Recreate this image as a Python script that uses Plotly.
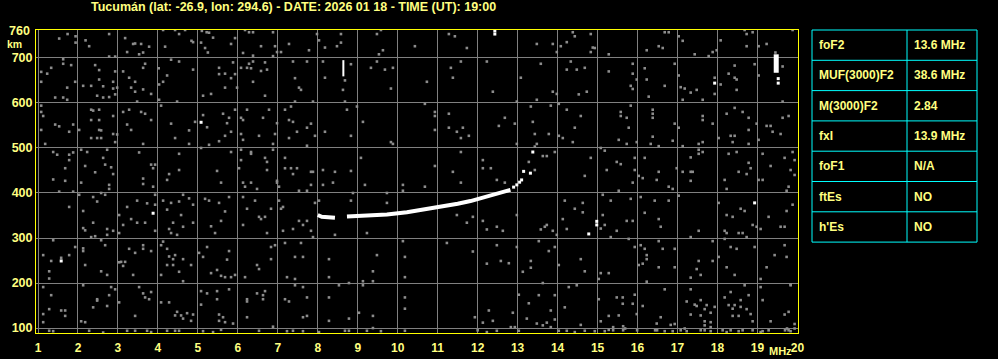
import plotly.graph_objects as go

# ---------------- data ----------------
title_text = "Tucumán (lat: -26.9, lon: 294.6) - DATE: 2026 01 18 - TIME (UT): 19:00"
x_ticks = list(range(1, 21))
y_ticks = [100, 200, 300, 400, 500, 600, 700]

param_names = ["foF2", "MUF(3000)F2", "M(3000)F2", "fxI", "foF1", "ftEs", "h'Es"]
param_values = ["13.6 MHz", "38.6 MHz", "2.84", "13.9 MHz", "N/A", "NO", "NO"]

# main F2 trace (MHz, km)
trace_freq = [8.00, 8.10, 8.43, None, 8.73, 9.23, 9.73, 10.23, 10.60, 11.00, 11.50, 11.82, 12.10, 12.38, 12.60, 12.82]
trace_height = [351, 347, 345, None, 348, 349, 352, 357, 362, 368, 376, 382, 389, 396, 401, 407]

# isolated strong echoes
echo_freq = [12.90, 12.98, 13.05, 13.10, 13.15, 13.32, 13.38, 12.43, 12.43, 14.98, 14.98, 14.78, 5.08, 3.88, 1.58, 17.93, 18.93, 19.52, 19.52]
echo_height = [413, 418, 424, 429, 448, 444, 491, 760, 753, 337, 329, 309, 557, 355, 249, 644, 378, 654, 644]

streak1_freq = [8.64, 8.64]
streak1_height = [659, 695]
streak2_freq = [19.47, 19.47]
streak2_height = [667, 708]

# background noise (MHz, km)
noise_a = [(1.74,753),(1.94,748),(1.94,734),(1.53,743),(2.19,739),(2.28,726),(2.78,753),(3.18,744),(3.38,731),(3.43,732),
(3.58,731),(3.78,725),(3.23,713),(3.53,708),(3.63,712),(4.18,725),(4.13,762),(4.43,762),(4.53,753),(4.68,762),(4.84,738),
(4.88,735),(5.08,734),(5.10,760),(5.22,757),(5.28,756),(5.38,745),(5.18,722),(5.25,712),(2.78,703),(2.93,703),
(1.63,697),(1.63,687),(1.83,684),(1.33,678),(1.08,669),(1.08,647),(1.23,665),(1.93,647),(1.73,634),(1.43,612),(1.63,612),
(1.73,607),(2.13,638),(2.43,684),(2.53,673),(2.33,638),(2.53,652),(2.63,637),(2.48,616),(2.63,612),(2.78,613),(2.93,619),
(2.88,647),(2.88,632),(2.98,634),(2.93,670),(3.13,670),(3.28,656),(3.43,647),(3.33,634),(3.43,625),(3.63,630),(3.63,678),
(3.68,687),(3.83,620),(3.48,603),(4.03,641),(4.02,677),(4.13,647),(4.23,661),(4.33,696),(4.53,692),(4.88,674),(5.13,616),
(5.33,620),(5.53,678),(5.53,664),(5.68,665),(5.68,634),(4.48,603),(4.03,607),
(1.08,594),(1.08,580),(1.13,571),(1.08,540),(1.43,552),(1.53,548),(1.88,552),(1.78,536),(1.18,509),(2.33,585),(2.38,583),
(2.53,585),(2.33,562),(2.53,562),(2.88,571),(2.03,540),(2.53,540),(2.58,539),(2.33,522),(2.48,522),(2.58,522),(2.88,531),
(2.98,530),(2.93,513),(3.13,580),(3.28,585),(3.23,552),(3.33,540),(3.58,580),(3.68,576),(3.83,562),(3.63,509),(4.08,594),
(4.33,554),(4.43,522),(4.78,539),(4.78,509),(5.13,573),(5.23,546),(5.63,576),(5.73,555),(5.53,515),(5.68,527),(5.28,507),(4.93,558),
(1.38,491),(1.48,485),(1.78,485),(1.88,490),(1.78,473),(1.68,455),(1.38,430),(1.68,427),(1.53,403),(1.88,403),(2.08,496),
(2.23,491),(2.18,460),(2.43,446),(2.63,478),(2.68,463),(2.83,457),(2.73,496),(2.78,418),(2.78,409),(2.88,442),(2.08,423),
(3.53,490),(3.83,463),(3.93,463),(3.88,455),(3.63,432),(3.63,420),(3.88,414),(4.28,442),(4.23,429),(4.53,487),(4.53,451),
(5.48,449),(5.58,423),(5.08,500),
(1.78,369),(2.03,396),(2.13,360),(2.38,391),(2.48,381),(2.58,400),(2.68,396),(2.13,322),(2.18,317),(2.38,334),(2.73,320),
(2.73,307),(2.43,304),(2.33,302),(2.88,316),(3.03,351),(3.23,369),(3.48,383),(3.73,377),(3.93,396),(3.93,374),(3.33,342),
(3.48,334),(3.68,334),(3.13,329),(3.03,311),(3.93,316),(4.13,383),(4.23,363),(4.33,378),(4.53,381),(4.63,396),(4.78,388),
(4.88,374),(4.58,351),(4.38,334),(4.28,320),(4.33,311),(4.48,307),(4.63,325),(4.88,334),(5.18,387),(5.28,383),(5.53,378),
(5.68,359),(5.33,326),(5.43,311),(5.58,338),
(1.38,295),(1.13,262),(1.33,249),(1.28,226),(1.28,210),(1.58,256),(1.78,262),(1.93,280),(2.13,277),(2.13,271),(2.58,295),
(2.68,284),(2.18,240),(2.58,226),(2.73,218),(3.03,246),(3.08,247),(3.13,238),(3.18,247),(3.28,276),(3.38,218),(3.43,267),
(3.63,284),(3.63,276),(3.83,271),(4.08,284),(4.13,292),(4.23,276),(4.28,259),(4.38,253),(4.43,262),(4.23,240),(4.38,240),
(4.63,253),(4.83,240),(4.08,218),(4.53,225),(4.63,204),(5.03,267),(5.13,258),(5.23,280),(5.33,222),(5.48,229),(5.58,216),
(5.68,213),(5.73,252),
(1.13,191),(1.33,173),(1.28,142),(1.58,139),(1.68,139),(1.68,127),(1.13,131),(1.13,113),(2.13,195),(2.08,115),(2.18,113),
(2.38,146),(2.48,164),(2.48,161),(2.73,149),(2.78,173),(2.83,191),(2.93,186),(3.03,157),(3.43,127),(3.53,191),(3.63,177),
(3.68,168),(3.78,164),(3.83,180),(4.08,157),(4.28,157),(4.43,128),(4.48,136),(4.58,128),(4.63,121),(4.73,133),(4.88,130),
(4.83,116),(5.08,182),(5.08,152),(5.23,177),(5.48,182),(5.48,164),(5.53,130),(5.63,124),(5.68,113),(5.53,116),
(1.28,94),(1.38,93),(2.28,94),(2.63,90),(3.23,94),(3.43,94),(3.73,94),(3.83,91),(4.23,94),(4.43,94),(4.53,94),(5.13,93),
(5.38,91),(5.58,96)]

noise_b = [(5.83,731),(5.93,744),(6.18,762),(6.28,757),(6.38,757),(6.13,711),(6.38,705),(6.58,726),(6.88,757),(6.93,726),
(6.98,713),(6.88,704),(7.08,713),(7.28,731),(7.78,717),(7.98,753),(8.03,739),(8.18,723),(8.48,726),(8.58,753),(8.58,734),
(9.48,753),(9.58,762),(9.63,717),(9.53,708),(10.43,726),
(5.88,690),(5.83,655),(5.93,664),(6.08,678),(6.23,678),(6.33,677),(6.28,687),(6.38,692),(6.38,647),(6.58,671),(6.68,690),
(6.73,674),(6.68,616),(5.98,634),(7.38,692),(7.43,655),(7.53,634),(7.58,629),(7.73,692),(7.43,603),(7.88,603),(8.13,692),
(8.18,656),(8.68,650),(8.63,629),(8.68,603),(8.83,686),(9.33,678),(9.48,692),(9.68,674),(9.88,678),(9.83,632),
(5.93,585),(6.23,585),(6.63,567),(6.78,585),(5.78,567),(6.08,567),(6.13,562),(5.83,536),(6.08,531),(6.13,518),(6.53,527),
(6.88,509),(6.93,531),(6.98,555),(7.18,585),(7.33,592),(7.28,562),(7.38,558),(7.28,522),(7.48,536),(7.73,545),(7.83,554),
(7.93,527),(7.73,505),(8.18,536),(8.73,585),(8.83,527),(8.98,592),(9.13,558),(9.83,513),(9.88,509),
(5.83,491),(6.08,496),(6.33,491),(6.33,487),(6.08,473),(6.68,478),(6.73,469),(6.73,451),(6.88,496),(6.03,455),(6.13,423),
(6.18,414),(6.33,423),(6.48,409),(6.98,427),(6.98,423),(7.03,414),(7.18,478),(7.18,455),(7.33,455),(7.38,442),(7.48,455),
(7.53,405),(7.83,447),(7.88,447),(7.83,418),(7.73,405),(8.13,451),(8.13,418),(8.43,447),(8.38,423),(8.83,449),(9.08,478),
(9.18,418),(10.13,418),(10.13,405),
(5.78,391),(6.13,391),(6.23,365),(6.43,383),(6.53,347),(6.58,342),(6.68,347),(6.83,365),(6.13,329),(6.73,311),(7.08,365),
(7.13,369),(7.03,383),(7.38,320),(7.53,338),(7.63,329),(7.73,338),(7.83,316),(7.88,302),(7.13,316),(7.93,378),(8.03,383),
(8.43,307),(8.83,383),(8.88,400),(9.23,311),(9.73,400),(9.73,378),
(5.78,271),(5.83,213),(5.93,218),(6.18,213),(6.48,240),(6.53,231),(6.83,280),(6.83,253),(6.93,284),(7.18,289),(7.23,213),
(7.43,258),(7.63,258),(7.58,289),(7.43,209),(8.28,253),(8.28,213),(9.48,262),(9.38,226),(9.38,204),(10.13,293),(10.18,258),
(10.18,213),(9.13,204),
(5.78,186),(6.23,164),(6.23,159),(6.48,177),(6.63,173),(6.63,164),(6.68,182),(7.18,164),(7.28,159),(7.43,195),(7.63,191),
(7.73,168),(6.23,124),(5.88,110),(6.88,103),(7.63,124),(7.73,127),(8.28,168),(8.28,116),(8.53,195),(8.78,200),(8.78,121),
(9.03,134),(9.13,195),(9.38,127),(10.18,168),(10.18,143),
(6.53,94),(7.23,93),(7.38,94),(7.63,93),(8.03,91),(8.68,94),(8.78,94),(9.23,94),(9.38,100),(9.58,93),(10.18,94)]

noise_c = [(11.28,753),(11.43,748),(11.73,722),(13.48,731),(13.88,731),(14.08,726),(14.23,735),(13.98,713),(14.38,757),
(14.43,748),(14.83,753),(14.88,723),(14.93,722),(14.83,713),(15.28,708),
(11.33,678),(11.58,692),(11.38,656),(12.23,692),(10.73,647),(12.38,625),(13.08,656),(13.58,687),(13.88,625),(13.98,620),
(14.23,674),(14.33,692),(14.48,674),(14.68,678),(14.53,619),(14.73,625),(15.28,670),(13.48,607),(12.98,603),
(10.68,598),(10.93,580),(10.93,571),(11.28,576),(10.93,540),(11.28,545),(11.48,536),(11.63,545),(11.58,522),(11.78,527),
(12.53,549),(12.68,567),(12.93,554),(13.33,592),(13.38,558),(13.43,531),(13.78,531),(13.83,594),(14.03,598),(14.03,527),
(14.13,522),(14.23,585),(14.38,513),(14.43,545),(14.58,571),(13.48,509),(12.98,509),
(11.58,491),(12.13,473),(12.13,455),(12.33,455),(11.38,447),(10.93,460),(10.68,414),(11.58,423),(12.48,429),(12.68,423),
(13.28,469),(13.43,451),(13.43,503),(13.63,482),(13.73,482),(13.93,491),(14.68,438),(14.83,478),(15.08,500),(15.18,494),
(15.23,451),(15.13,396),
(14.18,383),(14.43,365),(14.63,378),(14.63,357),(15.33,383),(15.13,351),(15.18,329),(15.08,321),(11.48,351),(11.73,334),
(11.88,347),(12.13,338),(12.23,319),(12.48,325),(12.63,316),(12.98,351),(13.58,319),(13.68,325),(13.73,329),(13.88,316),
(13.98,307),(14.13,342),(14.23,320),
(11.23,289),(11.88,270),(12.23,243),(12.48,284),(12.58,249),(12.78,244),(12.98,280),(13.13,225),(13.33,249),(13.33,234),
(13.53,293),(13.78,271),(13.93,280),(14.03,240),(14.58,253),(14.68,226),(15.03,209),(15.08,222),(15.28,222),(15.33,302),
(13.03,174),(13.28,155),(13.53,173),(13.63,200),(13.93,173),(13.83,139),(14.28,191),(14.48,195),(14.18,146),(15.03,164),
(15.08,115),(15.28,127),(11.93,124),(12.13,112),(12.28,139),(12.38,116),(12.88,134),(13.23,121),(13.48,110),(13.73,112),
(13.93,119),(14.58,107),
(12.00,95),(12.23,91),(12.83,102),(12.93,102),(13.03,94),(13.63,106),(13.83,102),(14.03,94),(14.23,94),(14.43,91),
(14.68,94),(14.93,93),(15.18,93),(15.28,96),(12.48,94)]

noise_d = [(16.68,757),(16.78,757),(17.03,748),(17.13,738),(16.23,717),(16.53,726),(16.63,722),(17.43,708),(17.78,704),
(17.88,713),(17.98,717),(18.08,739),(18.68,762),(18.73,753),(18.88,757),(18.73,726),(19.03,726),(19.23,731),(19.88,762),
(15.88,687),(15.88,665),(15.98,652),(15.83,638),(15.88,631),(16.18,677),(16.23,652),(16.28,614),(16.68,638),(16.93,687),
(17.03,661),(17.08,635),(17.18,632),(17.33,623),(17.13,607),(17.48,629),(17.63,607),(17.93,656),(17.93,620),(18.08,641),
(18.28,665),(18.43,656),(18.48,652),(18.48,629),(18.43,683),(18.93,686),(19.03,661),(19.63,681),(19.63,603),(19.45,712),
(15.58,580),(15.58,571),(15.73,567),(15.78,545),(15.53,518),(15.73,509),(15.98,513),(15.83,594),(16.38,585),(16.38,576),
(16.38,567),(16.38,525),(16.33,509),(16.53,504),(16.88,516),(16.93,554),(17.03,545),(17.13,504),(17.63,571),(17.63,562),
(17.88,554),(17.63,513),(17.53,509),(18.03,522),(18.23,576),(18.33,527),(18.43,527),(18.38,513),(18.43,589),(18.63,580),
(18.78,567),(18.78,540),(18.78,509),(18.98,554),(19.03,518),(19.23,549),(19.33,549),(19.38,536),(19.58,531),(19.63,567),
(19.78,571),
(15.48,469),(15.58,464),(15.93,478),(15.93,451),(15.88,423),(16.03,438),(16.13,433),(16.18,478),(15.53,405),(16.53,447),
(16.48,429),(16.78,414),(16.88,409),(16.98,455),(17.13,447),(17.33,479),(17.33,447),(17.38,447),(17.33,427),(17.53,496),
(17.53,487),(17.63,491),(18.28,487),(18.48,491),(18.18,429),(18.23,409),(18.53,447),(18.73,442),(18.78,467),(18.83,455),
(19.03,429),(19.13,429),(19.13,487),(19.33,460),(19.68,478),(19.88,491),(19.93,473),(19.83,451),(19.93,440),(19.78,414),
(19.73,405),
(16.08,391),(15.83,387),(16.43,383),(16.78,383),(17.03,394),(16.18,356),(15.88,338),(15.73,338),(16.53,342),(16.58,325),
(15.48,316),(17.53,316),(17.33,302),(18.03,378),(18.23,351),(18.38,347),(18.58,365),(18.68,360),(18.18,316),(18.23,311),
(18.53,311),(18.63,311),(18.73,302),(18.88,329),(18.98,325),(19.08,320),(19.28,347),(19.58,325),(19.68,325),(19.73,360),
(19.88,374),
(15.78,298),(15.93,280),(16.18,276),(16.23,262),(16.23,253),(16.13,243),(16.03,240),(16.08,284),(16.53,293),(16.63,276),
(16.93,276),(16.53,235),(16.93,235),(16.23,203),(17.33,212),(17.58,218),(17.48,231),(17.53,249),(17.88,293),(17.88,249),
(18.18,298),(18.03,258),(18.23,235),(18.33,280),(18.48,276),(18.43,218),(18.93,280),(19.08,209),(19.23,235),(19.43,262),
(19.68,284),(19.73,258),(19.83,195),
(15.48,168),(15.63,168),(15.63,154),(15.88,154),(15.93,174),(16.13,149),(15.98,131),(15.53,128),(16.68,186),(16.58,124),
(16.48,110),(17.23,159),(17.33,186),(17.43,152),(17.48,149),(17.58,162),(17.68,142),(17.73,151),(17.83,134),(17.93,147),
(17.58,128),(17.33,130),(17.68,115),(18.18,168),(18.33,180),(18.28,151),(18.43,151),(18.58,162),(18.58,147),(18.38,143),
(18.38,127),(18.53,127),(18.68,195),(18.73,142),(18.78,173),(19.08,191),(19.13,162),(19.68,130),(19.78,136),(19.83,197),
(19.93,109),(19.33,115),(18.88,115),(18.83,131),(16.93,109),
(15.39,102),(15.39,95),(15.64,104),(15.64,95),(15.69,99),(15.99,95),(16.44,95),(16.49,95),(16.68,93),(16.83,107),
(16.88,93),(17.08,95),(17.18,99),(17.23,93),(17.58,95),(17.68,106),(17.68,95),(17.83,113),(17.83,102),(17.83,93),
(18.13,95),(18.23,91),(18.33,95),(18.53,93),(18.63,95),(18.88,95),(19.08,91),(19.13,93),(19.28,95),(19.69,95),
(19.74,99),(19.78,95),(19.83,93),(19.93,99)]

noise_points = noise_a + noise_b + noise_c + noise_d
noise_freq = [p[0] for p in noise_points]
noise_height = [p[1] for p in noise_points]

# ---------------- styles ----------------
TXT = "#ffff80"
FRAME = "#ffff00"
GRID = "#808080"
FONT = "Liberation Sans, Arial, sans-serif"

fig = go.Figure()
fig.add_trace(go.Scatter(x=noise_freq, y=noise_height, mode="markers",
                         marker=dict(symbol="square", size=2.6, color="#8c8c8c", line=dict(width=0)),
                         hoverinfo="skip", showlegend=False))
fig.add_trace(go.Scatter(x=trace_freq, y=trace_height, mode="lines",
                         line=dict(color="#ffffff", width=4), connectgaps=False,
                         hoverinfo="skip", showlegend=False))
fig.add_trace(go.Scatter(x=streak1_freq, y=streak1_height, mode="lines",
                         line=dict(color="#ffffff", width=2), showlegend=False, hoverinfo="skip"))
fig.add_trace(go.Scatter(x=streak2_freq, y=streak2_height, mode="lines",
                         line=dict(color="#ffffff", width=5), showlegend=False, hoverinfo="skip"))
fig.add_trace(go.Scatter(x=echo_freq, y=echo_height, mode="markers",
                         marker=dict(symbol="square", size=3, color="#ffffff", line=dict(width=0)),
                         hoverinfo="skip", showlegend=False))

fig.update_layout(
    width=998, height=359,
    margin=dict(l=36, r=200, t=30, b=26, autoexpand=False),
    paper_bgcolor="#000000", plot_bgcolor="#000000",
    font=dict(family=FONT, size=12, color=TXT),
    title=dict(text=title_text, x=91/998, xanchor="left", xref="container",
               y=1 - 7/359, yanchor="middle", yref="container",
               font=dict(family=FONT, size=12.5, color=TXT, weight="bold")),
    xaxis=dict(range=[0.95, 20.015], tickvals=x_ticks, ticktext=[str(v) for v in x_ticks],
               showgrid=True, gridcolor=GRID, gridwidth=1, zeroline=False, color=TXT,
               showline=True, linecolor=FRAME, linewidth=1, mirror=True, ticks="",
               ticklabelstandoff=4, automargin=False,
               tickfont=dict(family=FONT, size=12, color=TXT, weight="bold")),
    yaxis=dict(range=[89, 762], tickvals=y_ticks, ticktext=[str(v) for v in y_ticks],
               showgrid=True, gridcolor=GRID, gridwidth=1, zeroline=False, color=TXT,
               showline=True, linecolor=FRAME, linewidth=1, mirror=True, ticks="",
               automargin=False,
               tickfont=dict(family=FONT, size=12.5, color=TXT, weight="bold")),
)

# axis extra labels
fig.add_annotation(text="760", x=-0.005, xref="paper", xanchor="right", y=760, yref="y", yanchor="middle",
                   showarrow=False, font=dict(family=FONT, size=12.5, color=TXT, weight="bold"))
fig.add_annotation(text="km", x=(14 - 36) / 762, xref="paper", xanchor="center", y=(333 - 44.5) / 303, yref="paper",
                   yanchor="middle", showarrow=False, font=dict(family=FONT, size=10.5, color=TXT, weight="bold"))
fig.add_annotation(text="MHz", x=(780 - 36) / 762, xref="paper", xanchor="center", y=(333 - 351) / 303, yref="paper",
                   yanchor="middle", showarrow=False, font=dict(family=FONT, size=11, color=TXT, weight="bold"))

# parameter table
x_left, x_mid, x_right = (812 - 36) / 762, (907 - 36) / 762, (977 - 36) / 762
row_h = 0.1
n = len(param_names)
fig.add_shape(type="rect", xref="paper", yref="paper", x0=x_left, x1=x_right, y0=1 - n * row_h, y1=1,
              line=dict(color="#00ffff", width=1), fillcolor="#000000", layer="above")
fig.add_shape(type="line", xref="paper", yref="paper", x0=x_mid, x1=x_mid, y0=1 - n * row_h, y1=1,
              line=dict(color="#00ffff", width=1), layer="above")
for i in range(1, n):
    fig.add_shape(type="line", xref="paper", yref="paper", x0=x_left, x1=x_right,
                  y0=1 - i * row_h, y1=1 - i * row_h, line=dict(color="#00ffff", width=1), layer="above")
for i, (nm, val) in enumerate(zip(param_names, param_values)):
    yc = 1 - (i + 0.5) * row_h
    fig.add_annotation(text=nm, x=(817 - 36) / 762, xref="paper", xanchor="left", y=yc, yref="paper",
                       yanchor="middle", showarrow=False, font=dict(family=FONT, size=12, color=TXT, weight="bold"))
    fig.add_annotation(text=val, x=(912 - 36) / 762, xref="paper", xanchor="left", y=yc, yref="paper",
                       yanchor="middle", showarrow=False, font=dict(family=FONT, size=12, color=TXT, weight="bold"))

fig.write_html("out.html")
